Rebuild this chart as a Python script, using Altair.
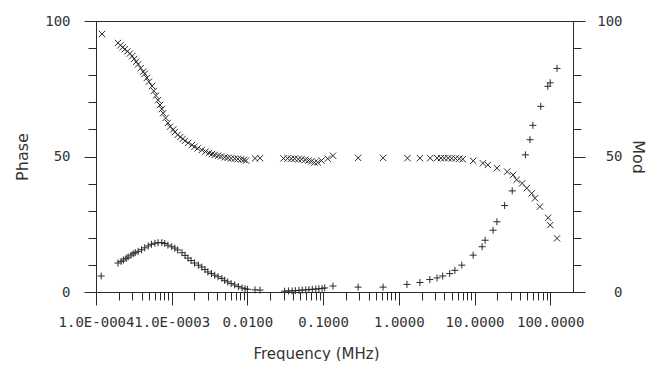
import altair as alt
import pandas as pd

# ---- data (frequency in MHz) ----
mod_freq = [1.2e-4, 1.95e-4, 2.1e-4, 2.25e-4, 2.4e-4, 2.6e-4, 2.8e-4, 3.0e-4, 3.2e-4, 3.4e-4,
            3.6e-4, 3.9e-4, 4.2e-4, 4.4e-4, 4.7e-4, 5.0e-4, 5.5e-4, 5.8e-4, 6.2e-4, 6.6e-4,
            7.0e-4, 7.4e-4, 7.7e-4, 8.3e-4, 8.9e-4, 9.5e-4, 1.05e-3, 1.1e-3, 1.2e-3, 1.3e-3,
            1.4e-3, 1.5e-3, 1.65e-3, 1.85e-3, 2.0e-3, 2.2e-3, 2.5e-3, 2.8e-3, 3.1e-3, 3.4e-3,
            3.7e-3, 4.1e-3, 4.5e-3, 5.0e-3, 5.5e-3, 6.1e-3, 6.8e-3, 7.5e-3, 8.3e-3, 9.0e-3,
            9.6e-3, 0.0126, 0.0147,
            0.030, 0.034, 0.038, 0.042, 0.047, 0.052, 0.058, 0.064, 0.070, 0.077, 0.085, 0.095,
            0.115, 0.135, 0.29, 0.62,
            1.3, 1.9, 2.6, 3.2, 3.6, 4.0, 4.5, 5.0, 5.6, 6.3, 7.0, 9.6, 12.9, 15.0, 19.8, 27.0,
            32.3, 36.0, 42.5, 49.0, 57.0, 63.0, 73.0, 94.0, 100.0, 123.0]
mod_val = [95.2, 91.9, 91.0, 90.3, 89.6, 88.8, 88.0, 87.0, 86.0, 85.0,
           84.0, 82.6, 81.3, 80.5, 79.0, 77.6, 76.0, 74.2, 72.5, 70.8,
           69.0, 67.5, 66.0, 64.2, 62.4, 61.0, 60.0, 59.0, 58.0, 57.2,
           56.5, 55.8, 55.0, 54.2, 53.6, 53.0, 52.4, 51.8, 51.3, 50.9,
           50.6, 50.3, 50.0, 49.7, 49.5, 49.3, 49.2, 49.1, 49.0, 48.8,
           48.5, 49.3, 49.4,
           49.3, 49.3, 49.2, 49.2, 49.0, 49.0, 48.8, 48.5, 48.2, 47.8, 47.8, 48.5,
           49.2, 50.3, 49.5, 49.5,
           49.4, 49.4, 49.4, 49.4, 49.4, 49.4, 49.4, 49.3, 49.3, 49.2, 49.0, 48.4, 47.5, 46.9,
           45.7, 44.4, 43.2, 41.4, 40.1, 38.3, 36.4, 34.6, 31.5, 27.4, 24.7, 19.8]

phase_freq = [1.17e-4, 1.95e-4, 2.15e-4, 2.3e-4, 2.5e-4, 2.65e-4, 2.9e-4, 3.1e-4, 3.3e-4, 3.6e-4,
              4.0e-4, 4.4e-4, 4.9e-4, 5.4e-4, 6.0e-4, 6.6e-4, 7.4e-4, 8.1e-4, 8.9e-4, 1.0e-3,
              1.1e-3, 1.2e-3, 1.37e-3, 1.5e-3, 1.64e-3, 1.8e-3, 2.0e-3, 2.25e-3, 2.5e-3, 2.75e-3,
              3.0e-3, 3.35e-3, 3.7e-3, 4.1e-3, 4.6e-3, 5.0e-3, 5.5e-3, 6.1e-3, 6.8e-3, 7.6e-3,
              8.5e-3, 9.3e-3, 1.0e-2, 0.0126, 0.0147,
              0.031, 0.035, 0.039, 0.043, 0.048, 0.053, 0.059, 0.065, 0.072, 0.080, 0.088, 0.097,
              0.105, 0.135, 0.29, 0.62,
              1.28, 1.9, 2.57, 3.2, 3.8, 4.7, 5.5, 6.8, 9.6, 12.6, 13.8, 17.6, 19.8, 25.0, 31.5,
              47.0, 54.0, 59.0, 75.0, 93.0, 100.0, 123.0]
phase_val = [5.9, 10.7, 11.3, 11.8, 12.4, 12.9, 13.6, 14.1, 14.5, 15.0,
             15.6, 16.3, 17.0, 17.6, 18.0, 18.2, 18.2, 17.9, 17.3, 16.7,
             16.2, 15.5, 14.5, 13.5, 12.5, 11.6, 10.7, 9.9, 9.2, 8.3,
             7.4, 6.8, 6.2, 5.6, 5.0, 4.3, 3.7, 3.1, 2.6, 2.0,
             1.5, 1.2, 1.0, 0.8, 0.7,
             0.3, 0.4, 0.4, 0.5, 0.6, 0.7, 0.8, 0.9, 1.0, 1.1, 1.2, 1.3,
             1.5, 2.2, 1.8, 1.8,
             2.8, 3.5, 4.6, 5.2, 5.9, 6.8, 8.0, 9.9, 13.6, 16.7, 19.1, 22.8, 25.9, 31.9, 37.3,
             50.6, 56.2, 61.5, 68.5, 75.9, 77.2, 82.5]

x_major = [0.0001, 0.001, 0.01, 0.1, 1, 10, 100]
x_major_labels = ["1.0E-0004", "1.0E-0003", "0.0100", "0.1000", "1.0000", "10.0000", "100.0000"]
x_minor_mult = [2, 3, 4, 5, 6, 7, 8, 9]
y_ticks = [0, 10, 20, 30, 40, 50, 60, 70, 80, 90, 100]

df_mod = pd.DataFrame({"f": mod_freq, "v": mod_val})
df_phase = pd.DataFrame({"f": phase_freq, "v": phase_val})

x_ticks = sorted(x_major + [m * d for d in x_major[:-1] for m in x_minor_mult])
label_expr = " : ".join(
    f"abs(datum.value / {v} - 1) < 1e-6 ? '{lab}'" for v, lab in zip(x_major, x_major_labels)
) + " : ''"
major_test = "abs(log(datum.value) / LN10 - round(log(datum.value) / LN10)) < 0.001"

INK = "#2a2a2a"
MONO = "DejaVu Sans Mono"
SANS = "DejaVu Sans"

x_enc = alt.X(
    "f:Q",
    scale=alt.Scale(type="log", domain=[1e-4, 200], nice=False),
    axis=alt.Axis(
        values=x_ticks,
        labelExpr=label_expr,
        labelOverlap=False,
        labelFlush=False,
        labelFont=MONO,
        labelFontSize=14,
        labelColor="#333",
        labelPadding=10,
        tickSize={"condition": {"test": major_test, "value": 13}, "value": 8},
        tickColor=INK,
        domainColor=INK,
        grid=False,
        title="Frequency (MHz)",
        titleFont=SANS,
        titleFontSize=15,
        titleFontWeight="normal",
        titleColor="#333",
        titleX=220,
        titleY=61,
        titleAlign="center",
        titleBaseline="middle",
    ),
)

y_scale = alt.Scale(domain=[0, 100], nice=False)
y_tick_size = {"condition": {"test": "datum.value % 50 === 0", "value": 12}, "value": 8}
y_label_expr = "datum.value % 50 === 0 ? datum.label : ''"

left_axis = alt.Axis(
    orient="left", values=y_ticks, labelExpr=y_label_expr, labelOverlap=False,
    labelFont=MONO, labelFontSize=14, labelColor="#333", labelPadding=14,
    tickSize=y_tick_size, tickColor=INK, domainColor=INK, grid=False,
    title="Phase", titleFont=SANS, titleFontSize=16, titleFontWeight="normal",
    titleColor="#333", titleX=-74, titleY=135.5, titleAngle=-90,
    titleAlign="center", titleBaseline="middle",
)
right_axis = alt.Axis(
    orient="right", values=y_ticks, labelExpr=y_label_expr, labelOverlap=False,
    labelFont=MONO, labelFontSize=14, labelColor="#333", labelPadding=37,
    labelAlign="right",
    tickSize=y_tick_size, tickColor=INK, domainColor=INK, grid=False,
    title="Mod", titleFont=SANS, titleFontSize=16, titleFontWeight="normal",
    titleColor="#333", titleX=64, titleY=135.5, titleAngle=90,
    titleAlign="center", titleBaseline="middle",
)

cross_x = "M-1,-1L1,1M-1,1L1,-1"
cross_plus = "M-1,0L1,0M0,-1L0,1"

phase_layer = alt.Chart(df_phase).mark_point(
    shape=cross_plus, size=49, filled=False, strokeWidth=1, color=INK, opacity=1
).encode(x=x_enc, y=alt.Y("v:Q", scale=y_scale, axis=left_axis))

mod_layer = alt.Chart(df_mod).mark_point(
    shape=cross_x, size=40, filled=False, strokeWidth=1, color=INK, opacity=1
).encode(x=x_enc, y=alt.Y("v:Q", scale=y_scale, axis=right_axis))

chart = (
    alt.layer(phase_layer, mod_layer)
    .resolve_scale(y="independent")
    .properties(
        width=477,
        height=271,
        autosize=alt.AutoSizeParams(type="none"),
        padding={"left": 88, "top": 13, "right": 78, "bottom": 69},
        background="white",
    )
    .configure_view(stroke=INK, strokeWidth=1)
)

chart.save("out.html", embed_options={"renderer": "svg", "actions": False})
